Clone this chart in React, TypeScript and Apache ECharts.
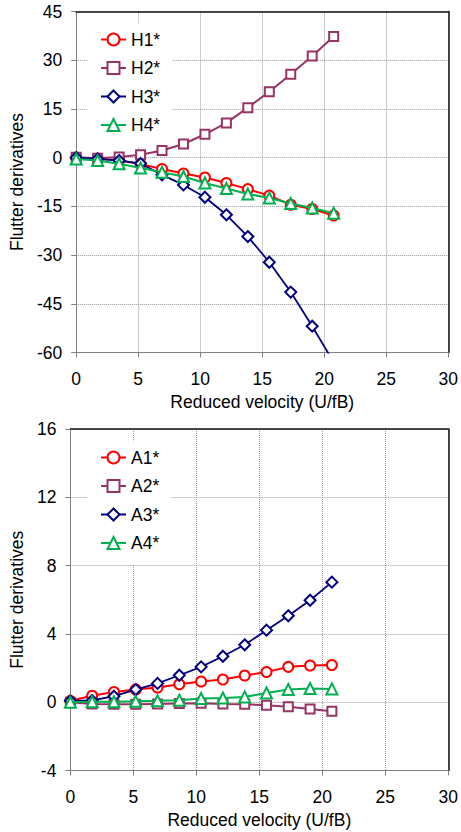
import React, { useEffect, useRef } from "react";
import * as echarts from "echarts";

const velocity = [0, 1.73, 3.46, 5.19, 6.92, 8.65, 10.38, 12.11, 13.84, 15.57, 17.3, 19.03, 20.76];

const H1 = [0, -0.3, -0.8, -2.0, -3.5, -4.9, -6.1, -7.8, -9.7, -11.7, -14.5, -15.8, -17.8];
const H2 = [0.1, -0.2, 0.2, 0.9, 2.2, 4.2, 7.2, 10.7, 15.4, 20.3, 25.7, 31.3, 37.3];
const H3 = [0, -0.4, -0.9, -1.8, -5.3, -8.4, -12.2, -17.6, -24.3, -32.2, -41.4, -51.9, -63.0];
const H4 = [-0.4, -0.9, -1.9, -3.2, -4.5, -5.8, -7.8, -9.5, -11.2, -12.4, -14.1, -15.5, -17.1];

const A1 = [0.08, 0.38, 0.6, 0.74, 0.86, 1.05, 1.21, 1.33, 1.56, 1.77, 2.07, 2.15, 2.18];
const A2 = [0.0, -0.1, -0.12, -0.12, -0.1, -0.08, -0.06, -0.1, -0.12, -0.18, -0.27, -0.4, -0.53];
const A3 = [0.08, 0.1, 0.35, 0.74, 1.1, 1.58, 2.07, 2.69, 3.36, 4.22, 5.06, 5.97, 7.03];
const A4 = [0, 0.03, 0.03, 0.05, 0.08, 0.12, 0.22, 0.25, 0.31, 0.54, 0.74, 0.8, 0.78];

const topNames = ["H1*", "H2*", "H3*", "H4*"];
const bottomNames = ["A1*", "A2*", "A3*", "A4*"];

const xTicks = { min: 0, max: 30, interval: 5 };
const topY = { min: -60, max: 45, interval: 15 };
const bottomY = { min: -4, max: 16, interval: 4 };

const colors = ["#FF0000", "#993366", "#000080", "#00B050"];
const symbols = ["circle", "rect", "diamond", "triangle"];
const symbolSizes = [10, 9, 11, 11];
const lineWidths = [2, 2, 1.8, 2];

const FONT = "'Liberation Sans', Arial, sans-serif";
const FS = 17.5;

export default function App() {
  const ref = useRef<HTMLDivElement>(null);

  useEffect(() => {
    if (!ref.current) return;
    const chart = echarts.init(ref.current, undefined, { renderer: "svg" });

    const mkSeries = (name: string, vals: number[], i: number, axis: number) => ({
      name,
      type: "line",
      xAxisIndex: axis,
      yAxisIndex: axis,
      data: velocity.map((v, k) => [v, vals[k]]),
      symbol: symbols[i],
      symbolSize: symbolSizes[i],
      showAllSymbol: true,
      clip: true,
      lineStyle: { color: colors[i], width: lineWidths[i] },
      itemStyle: { color: "#fff", borderColor: colors[i], borderWidth: 2 },
      z: 3 + i,
    });

    const mainX = (gridIndex: number) => ({
      type: "value",
      gridIndex,
      ...xTicks,
      name: "Reduced velocity (U/fB)",
      nameLocation: "middle",
      nameGap: 40,
      nameTextStyle: { fontSize: FS, color: "#000", fontFamily: FONT },
      axisLine: { show: true, onZero: false, lineStyle: { color: "#808080", width: 1 } },
      axisTick: { show: true, length: 5, lineStyle: { color: "#808080" } },
      axisLabel: { fontSize: FS, color: "#000", fontFamily: FONT, margin: 17 },
      splitLine: { show: true, lineStyle: { color: "#9a9a9a", type: "dotted", width: 1 } },
    });

    const mainY = (gridIndex: number, r: { min: number; max: number; interval: number }) => ({
      type: "value",
      gridIndex,
      ...r,
      name: "Flutter derivatives",
      nameLocation: "middle",
      nameGap: 43,
      nameTextStyle: { fontSize: FS, color: "#000", fontFamily: FONT },
      axisLine: { show: true, onZero: false, lineStyle: { color: "#808080", width: 1 } },
      axisTick: { show: true, length: 5, lineStyle: { color: "#808080" } },
      axisLabel: { fontSize: FS, color: "#000", fontFamily: FONT, margin: 14 },
      splitLine: { show: true, lineStyle: { color: "#9a9a9a", type: "dotted", width: 1 } },
    });

    const frameX = (gridIndex: number) => ({
      type: "value",
      gridIndex,
      ...xTicks,
      position: "top",
      axisLine: { show: true, onZero: false, lineStyle: { color: "#111", width: 1.5 } },
      axisTick: { show: false },
      axisLabel: { show: false },
      splitLine: { show: false },
    });

    const frameY = (gridIndex: number, r: { min: number; max: number; interval: number }) => ({
      type: "value",
      gridIndex,
      ...r,
      position: "right",
      axisLine: { show: true, onZero: false, lineStyle: { color: "#111", width: 1.5 } },
      axisTick: { show: false },
      axisLabel: { show: false },
      splitLine: { show: false },
    });

    const legend = (names: string[], top: number) => ({
      data: names,
      orient: "vertical",
      left: 87,
      top,
      itemWidth: 25,
      itemHeight: 15,
      itemGap: 10.5,
      padding: [7, 12, 13, 13],
      backgroundColor: "#fff",
      textStyle: { fontSize: FS, color: "#000", fontFamily: FONT, lineHeight: 15 },
      selectedMode: false,
    });

    chart.setOption({
      animation: false,
      backgroundColor: "#fff",
      grid: [
        { left: 68, right: 11, top: 11.5, height: 341, containLabel: false },
        { left: 68, right: 11, top: 429, height: 341.5, containLabel: false },
      ],
      xAxis: [mainX(0), mainX(1), frameX(0), frameX(1)],
      yAxis: [mainY(0, topY), mainY(1, bottomY), frameY(0, topY), frameY(1, bottomY)],
      legend: [legend(topNames, 23.5), legend(bottomNames, 441.5)],
      series: [
        mkSeries(topNames[0], H1, 0, 0),
        mkSeries(topNames[1], H2, 1, 0),
        mkSeries(topNames[2], H3, 2, 0),
        mkSeries(topNames[3], H4, 3, 0),
        mkSeries(bottomNames[0], A1, 0, 1),
        mkSeries(bottomNames[1], A2, 1, 1),
        mkSeries(bottomNames[2], A3, 2, 1),
        mkSeries(bottomNames[3], A4, 3, 1),
      ],
    });

    return () => chart.dispose();
  }, []);

  return (
    <div
      ref={ref}
      style={{ position: "fixed", left: 0, top: 0, width: 461, height: 832, background: "#fff" }}
    />
  );
}
